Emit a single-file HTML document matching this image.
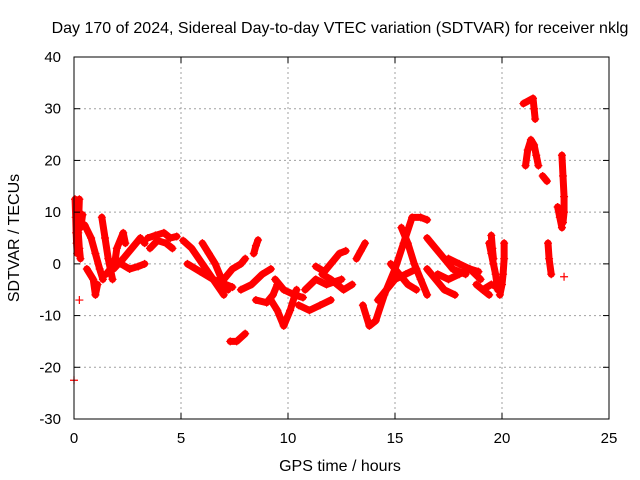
<!DOCTYPE html>
<html><head><meta charset="utf-8"><style>
body{margin:0;background:#fff}
svg{display:block;font-family:"Liberation Sans",sans-serif}
</style></head><body>
<svg id="c" width="640" height="480">
<rect width="640" height="480" fill="#fff"/>
<text x="340" y="33" text-anchor="middle" font-size="16">Day 170 of 2024, Sidereal Day-to-day VTEC variation (SDTVAR) for receiver nklg</text>
<text x="340" y="471" text-anchor="middle" font-size="16">GPS time / hours</text>
<text transform="translate(19,238) rotate(-90)" text-anchor="middle" font-size="16">SDTVAR / TECUs</text>
<g id="grid"></g><g id="marks"></g><g id="axes"></g>
</svg>
<script>
const xTicks=[0,5,10,15,20,25];
const yTicks=[-30,-20,-10,0,10,20,30,40];
const tracks=[
[[0.05,12.5],[0.08,9],[0.1,6],[0.12,4],[0.15,2]],
[[0.25,12.5],[0.22,9],[0.2,6],[0.25,3],[0.3,1]],
[[0.4,9.5],[0.35,8],[0.3,7]],
[[0.5,7.5],[0.8,5],[1.0,2],[1.2,-1],[1.35,-3]],
[[0.6,-1],[0.9,-3],[1.0,-6],[1.1,-4]],
[[1.3,9],[1.45,5],[1.6,1],[1.8,-3]],
[[1.5,-2],[1.9,0],[2.0,3],[2.3,6],[2.4,4]],
[[1.85,-1],[2.3,1],[2.7,3],[3.1,5],[3.3,4]],
[[2.2,0],[2.6,-1],[3.0,-0.5],[3.3,0]],
[[3.45,5],[3.8,5.5],[4.2,6],[4.5,5],[4.8,5.3]],
[[3.55,3],[3.9,4.5],[4.3,4],[4.6,3]],
[[5.1,4.5],[5.5,3],[6.0,0],[6.5,-3],[7.0,-6]],
[[5.3,0],[5.9,-1.5],[6.5,-3],[7.4,-4.5]],
[[6.0,4],[6.3,2],[6.6,0],[6.9,-3],[7.2,-5]],
[[7.0,-3],[7.4,-1],[7.8,0],[8.0,1]],
[[7.3,-15],[7.6,-15],[8.0,-13.5]],
[[8.4,2],[8.5,3.5],[8.6,4.6]],
[[7.8,-5],[8.3,-4],[8.8,-2],[9.2,-1]],
[[8.5,-7],[9.0,-7.5],[9.3,-6],[9.5,-4]],
[[9.2,-7],[9.5,-9],[9.8,-12],[10.1,-9],[10.4,-5]],
[[9.4,-3],[9.8,-5],[10.3,-6],[10.7,-6.5]],
[[10.5,-8],[11.0,-9],[11.5,-8],[12.0,-7]],
[[10.8,-5],[11.3,-3],[11.8,-4],[12.5,-3]],
[[11.3,-0.5],[11.7,-1.5],[12.0,0],[12.4,2],[12.7,2.5]],
[[11.6,-2],[12.0,-3],[12.6,-5],[13.0,-4]],
[[13.2,1],[13.4,2.5],[13.6,4]],
[[13.5,-8],[13.8,-12],[14.1,-11],[14.5,-6],[15.0,-1],[15.4,4],[15.8,9],[16.2,9],[16.5,8.5]],
[[14.2,-7],[14.6,-5],[15.0,-3],[15.5,-2],[16.0,-1]],
[[15.3,7],[15.6,4],[15.9,0],[16.2,-3],[16.5,-6]],
[[14.8,0],[15.2,-2],[15.6,-4],[16.0,-5]],
[[16.5,-1],[16.9,-3],[17.3,-5],[17.8,-6]],
[[16.5,5],[16.9,3],[17.3,1],[17.7,-1],[18.3,-2]],
[[17.0,-2],[17.5,-3],[18.0,-2],[18.5,-1],[18.9,-1.5]],
[[17.5,1],[18.0,0],[18.5,-1],[19.0,-3]],
[[18.8,-4],[19.1,-5],[19.4,-6]],
[[19.4,4],[19.5,2],[19.6,0],[19.7,-2],[19.8,-5]],
[[19.5,5.5],[19.55,3],[19.6,1]],
[[20.1,4],[20.1,1],[20.05,-2],[20.0,-4],[19.9,-6]],
[[19.1,-5],[19.5,-4],[19.8,-4.5]],
[[21.1,19],[21.2,22],[21.35,24],[21.5,23],[21.6,21],[21.7,19]],
[[21.0,31],[21.45,32],[21.5,30],[21.55,28]],
[[21.9,17],[22.1,16]],
[[22.6,11],[22.7,9],[22.8,7]],
[[22.8,21],[22.85,17],[22.9,13],[22.9,10],[22.85,8]],
[[22.15,4],[22.2,1],[22.3,-2]],
[[22.9,-2.5]],
[[0.0,-22.5]],
[[0.25,-7]]
];
const X0=74,X1=609,Y0=419,Y1=57,XMIN=0,XMAX=25,YMIN=-30,YMAX=40;
const sx=v=>X0+(v-XMIN)/(XMAX-XMIN)*(X1-X0);
const sy=v=>Y0-(v-YMIN)/(YMAX-YMIN)*(Y0-Y1);
const NS="http://www.w3.org/2000/svg";
const mk=(t,a,p)=>{const e=document.createElementNS(NS,t);for(const k in a)e.setAttribute(k,a[k]);p.appendChild(e);return e;};
const grid=document.getElementById('grid'),axes=document.getElementById('axes'),marks=document.getElementById('marks');
xTicks.forEach(t=>{
  if(t>XMIN&&t<XMAX){const g=mk('line',{x1:sx(t),x2:sx(t),y1:Y1,y2:Y0,stroke:'#a0a0a0','stroke-dasharray':'2,3'},grid);
  
  }
  const l=mk('text',{x:sx(t),y:Y0+24,'text-anchor':'middle','font-size':15},axes);l.textContent=t;
  
  
  mk('line',{x1:sx(t),x2:sx(t),y1:Y0,y2:Y0-6,stroke:'#000'},axes);
  mk('line',{x1:sx(t),x2:sx(t),y1:Y1,y2:Y1+6,stroke:'#000'},axes);
});
yTicks.forEach(t=>{
  if(t>YMIN&&t<YMAX){const g=mk('line',{x1:X0,x2:X1,y1:sy(t),y2:sy(t),stroke:'#a0a0a0','stroke-dasharray':'2,3'},grid);
  
  }
  const l=mk('text',{x:X0-13,y:sy(t)+5,'text-anchor':'end','font-size':15},axes);l.textContent=t;
  
  
  mk('line',{x1:X0,x2:X0+6,y1:sy(t),y2:sy(t),stroke:'#000'},axes);
  mk('line',{x1:X1,x2:X1-6,y1:sy(t),y2:sy(t),stroke:'#000'},axes);
});
const fr=mk('rect',{x:X0,y:Y1,width:X1-X0,height:Y0-Y1,fill:'none',stroke:'#000'},axes);


tracks.forEach(tr=>{
  const g=mk('g',{},marks);
  
  
  if(tr.length>1){mk('polyline',{points:tr.map(p=>sx(p[0])+','+sy(p[1])).join(' '),fill:'none',stroke:'#f00','stroke-width':7,'stroke-linejoin':'round','stroke-linecap':'round'},g);}
  tr.forEach(p=>{const x=sx(p[0]),y=sy(p[1]);
    mk('path',{d:`M${x-4},${y}H${x+4}M${x},${y-4}V${y+4}`,stroke:'#f00','stroke-width':1.2},g);});
});
</script>
</body></html>
